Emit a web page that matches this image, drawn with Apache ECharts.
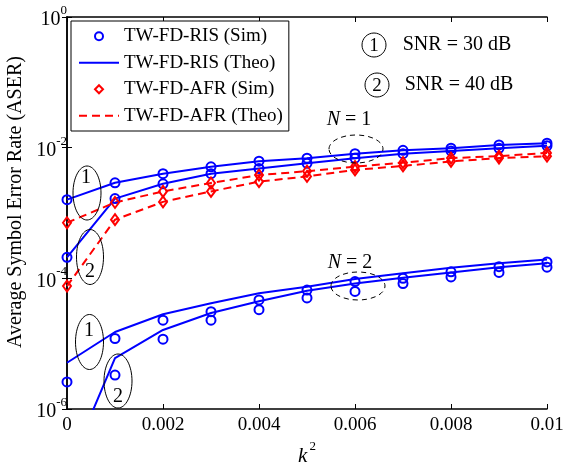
<!DOCTYPE html>
<html>
<head>
<meta charset="utf-8">
<script src="https://cdn.jsdelivr.net/npm/echarts@6/dist/echarts.min.js"></script>
<style>
  html, body { margin: 0; padding: 0; background: #fff; }
  #chart { width: 565px; height: 463px; }
</style>
</head>
<body>
<div id="chart"></div>
<script>
// Squared phase-noise level k^2
const k2 = [0, 0.001, 0.002, 0.003, 0.004, 0.005, 0.006, 0.007, 0.008, 0.009, 0.01];

// N = 1, RIS (simulation and theory coincide)
const risN1Snr30 = [1.6e-3, 2.9e-3, 4.0e-3, 5.1e-3, 6.2e-3, 6.9e-3, 8.1e-3, 9.1e-3, 9.8e-3, 1.10e-2, 1.17e-2];
const risN1Snr40 = [2.1e-4, 1.66e-3, 2.8e-3, 4.0e-3, 4.8e-3, 5.75e-3, 6.9e-3, 8.1e-3, 8.9e-3, 9.8e-3, 1.07e-2];

// N = 1, AFR (simulation and theory coincide)
const afrN1Snr30 = [7.1e-4, 1.45e-3, 2.14e-3, 2.88e-3, 3.8e-3, 4.37e-3, 5.13e-3, 5.89e-3, 6.92e-3, 7.41e-3, 8.32e-3];
const afrN1Snr40 = [7.6e-5, 7.9e-4, 1.48e-3, 2.14e-3, 3.02e-3, 3.63e-3, 4.57e-3, 5.25e-3, 6.17e-3, 6.92e-3, 7.41e-3];

// N = 2, RIS theory
const risN2TheoSnr30 = [5.1e-6, 1.51e-5, 2.82e-5, 4.17e-5, 5.89e-5, 7.41e-5, 9.77e-5, 1.20e-4, 1.45e-4, 1.70e-4, 1.95e-4];
const risN2TheoSnr40 = [1.1e-7, 6.0e-6, 1.62e-5, 2.95e-5, 4.47e-5, 6.46e-5, 8.32e-5, 1.02e-4, 1.23e-4, 1.48e-4, 1.70e-4];

// N = 2, RIS simulation
const risN2SimSnr30 = [2.6e-6, 1.20e-5, 2.29e-5, 3.09e-5, 4.68e-5, 6.61e-5, 8.91e-5, 1.0e-4, 1.26e-4, 1.51e-4, 1.78e-4];
const risN2SimSnr40 = [null, 3.3e-6, 1.17e-5, 2.29e-5, 3.31e-5, 5.01e-5, 6.31e-5, 8.32e-5, 1.05e-4, 1.23e-4, 1.48e-4];

const legendNames = ['TW-FD-RIS (Sim)', 'TW-FD-RIS (Theo)', 'TW-FD-AFR (Sim)', 'TW-FD-AFR (Theo)'];

const FONT = '"Liberation Serif", "Times New Roman", serif';
const BLUE = '#0000ff';
const RED = '#ff0000';

function pairs(ys) {
  return k2.map((x, i) => [x, ys[i]]);
}

function theoLine(name, ys, color, dashed) {
  return {
    name: name, type: 'line', data: pairs(ys), symbol: 'none', clip: true,
    lineStyle: { color: color, width: 2, type: dashed ? [8, 5] : 'solid' },
    itemStyle: { color: color },
    z: 2, animation: false
  };
}

function simMarks(name, ys, color, symbol, size) {
  return {
    name: name, type: 'line', data: pairs(ys), symbol: symbol, symbolSize: size,
    showSymbol: true, connectNulls: false, clip: true,
    lineStyle: { width: 0, opacity: 0 },
    itemStyle: { color: 'rgba(0,0,0,0)', borderColor: color, borderWidth: 2 },
    z: 3, animation: false
  };
}

const series = [
  theoLine(legendNames[1], risN1Snr30, BLUE, false),
  theoLine(legendNames[1], risN1Snr40, BLUE, false),
  theoLine(legendNames[3], afrN1Snr30, RED, true),
  theoLine(legendNames[3], afrN1Snr40, RED, true),
  theoLine(legendNames[1], risN2TheoSnr30, BLUE, false),
  theoLine(legendNames[1], risN2TheoSnr40, BLUE, false),
  simMarks(legendNames[0], risN1Snr30, BLUE, 'circle', 9),
  simMarks(legendNames[0], risN1Snr40, BLUE, 'circle', 9),
  simMarks(legendNames[2], afrN1Snr30, RED, 'diamond', [8, 11]),
  simMarks(legendNames[2], afrN1Snr40, RED, 'diamond', [8, 11]),
  simMarks(legendNames[0], risN2SimSnr30, BLUE, 'circle', 9),
  simMarks(legendNames[0], risN2SimSnr40, BLUE, 'circle', 9)
];

const tickStyle = { show: true, inside: true, length: 5, lineStyle: { color: '#000', width: 1 } };
const lineStyleAxis = { show: true, lineStyle: { color: '#000', width: 1.5 } };

function expLabel(v) {
  const e = Math.round(Math.log10(v));
  return '{b|10}{s|' + e + '}';
}

const chart = echarts.init(document.getElementById('chart'), null, { renderer: 'canvas' });

// annotation helpers (pixel space)
function ellipse(cx, cy, rx, ry, dashed) {
  return {
    type: 'ellipse', shape: { cx: cx, cy: cy, rx: rx, ry: ry }, z: 10,
    style: { fill: null, stroke: '#000', lineWidth: 1, lineDash: dashed ? [5, 4] : null }
  };
}
function label(x, y, text, size) {
  return {
    type: 'text', x: x, y: y, z: 11,
    style: { text: text, font: size + 'px ' + FONT, fill: '#000', align: 'center', verticalAlign: 'middle' }
  };
}
function nLabel(x, y, n) {
  return {
    type: 'text', x: x, y: y, z: 11,
    style: {
      text: '{i|N} = ' + n, fill: '#000', align: 'center', verticalAlign: 'middle',
      font: '20px ' + FONT,
      rich: { i: { fontStyle: 'italic', fontSize: 20, fontFamily: FONT } }
    }
  };
}

// legend entries: markers only for simulations, plain lines for theory
const legendData = legendNames.map((n, i) => (
  i % 2 === 1 ? { name: n, itemStyle: { opacity: 0 } } : { name: n }
));

chart.setOption({
  backgroundColor: '#fff',
  animation: false,
  grid: { left: 67, right: 18, top: 17, bottom: 54, containLabel: false, outerBoundsMode: 'none' },
  legend: {
    data: legendData,
    orient: 'vertical', left: 71, top: 21,
    backgroundColor: '#fff', borderColor: '#000', borderWidth: 1,
    padding: [5, 6, 5, 7],
    itemWidth: 40, itemHeight: 10, itemGap: 6,
    textStyle: { fontFamily: FONT, fontSize: 19, color: '#000', lineHeight: 20.5 },
    selectedMode: false, z: 20
  },
  xAxis: [
    {
      type: 'value', min: 0, max: 0.01, interval: 0.002,
      name: '{k|k}{s|2}', nameLocation: 'middle', nameGap: 27,
      nameTextStyle: {
        color: '#000',
        rich: {
          k: { fontFamily: FONT, fontStyle: 'italic', fontSize: 21, color: '#000', padding: [6, 0, 0, 0] },
          s: { fontFamily: FONT, fontSize: 13, color: '#000', verticalAlign: 'top', padding: [0, 0, 12, 2] }
        }
      },
      axisLine: lineStyleAxis, axisTick: tickStyle, splitLine: { show: false },
      axisLabel: { color: '#000', fontFamily: FONT, fontSize: 19, margin: 7 }
    },
    {
      type: 'value', position: 'top', min: 0, max: 0.01, interval: 0.002,
      axisLine: lineStyleAxis, axisTick: tickStyle, splitLine: { show: false },
      axisLabel: { show: false }
    }
  ],
  yAxis: [
    {
      type: 'log', logBase: 10, min: 1e-6, max: 1, interval: 2,
      name: 'Average Symbol Error Rate (ASER)', nameLocation: 'middle', nameGap: 35,
      nameTextStyle: { color: '#000', fontFamily: FONT, fontSize: 20, padding: [0, 0, 0, 22] },
      axisLine: lineStyleAxis, axisTick: tickStyle, splitLine: { show: false },
      axisLabel: {
        color: '#000', margin: 0, formatter: expLabel,
        rich: {
          b: { fontFamily: FONT, fontSize: 20, color: '#000', padding: [6, 0, 0, 0] },
          s: { fontFamily: FONT, fontSize: 13, color: '#000', verticalAlign: 'top', padding: [0, 0, 12, 0] }
        }
      }
    },
    {
      type: 'log', logBase: 10, min: 1e-6, max: 1, interval: 2, position: 'right',
      axisLine: lineStyleAxis, axisTick: tickStyle, splitLine: { show: false },
      axisLabel: { show: false }
    }
  ],
  series: series,
  graphic: [
    // SNR key
    ellipse(374, 45, 12, 12, false), label(374, 46, '1', 19),
    label(457, 45, 'SNR = 30 dB', 20),
    ellipse(377, 85, 12, 12, false), label(377, 86, '2', 19),
    label(459, 85, 'SNR = 40 dB', 20),
    // N = 1 group
    nLabel(349, 120, 1), ellipse(356, 149, 27, 14, true),
    ellipse(87, 193, 14, 27, false), label(86, 178, '1', 20),
    ellipse(90, 257, 13.5, 27.5, false), label(90, 272, '2', 20),
    // N = 2 group
    nLabel(350, 263, 2), ellipse(358, 286, 27, 14, true),
    ellipse(89.5, 342, 14, 27.5, false), label(89, 331, '1', 20),
    ellipse(118, 381, 14, 27, false), label(118, 397, '2', 20)
  ]
});
</script>
</body>
</html>
